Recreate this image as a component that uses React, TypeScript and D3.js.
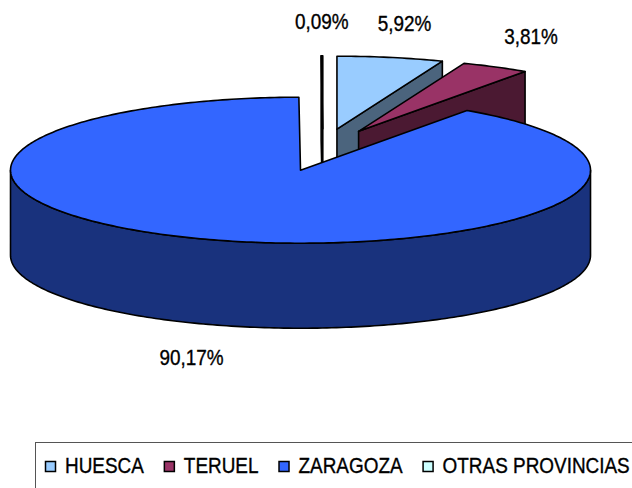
import { useLayoutEffect, useRef } from 'react'
import * as d3 from 'd3'

const provinces = ['HUESCA', 'TERUEL', 'ZARAGOZA', 'OTRAS PROVINCIAS']
const shares = [5.92, 3.81, 90.17, 0.09]
const colors = ['#99ccff', '#993366', '#3366ff', '#ccffff']

const W = 632
const H = 488
// no narrow font installed, so squeeze Liberation Sans horizontally
const FONT = '"Liberation Sans", Arial, sans-serif'
const FONT_SIZE = 21.5
const SQUEEZE = 0.88

type Pt = [number, number]

export default function App() {
  const ref = useRef<SVGSVGElement>(null)

  useLayoutEffect(() => {
    if (!ref.current) return
    const svg = d3.select(ref.current)
    svg.selectAll('*').remove()

    // 3d pie geometry
    const cx = 323
    const cy = 150
    const rx = 290
    const ry = 73
    const depth = 85
    const ex = 0.26 * rx
    const ey = 0.29 * ry

    const pie = d3.pie<number>().value((d) => d).sort(null)
    const slices = pie(shares).map((a, i) => {
      const mid = (a.startAngle + a.endAngle) / 2
      return {
        i,
        a0: a.startAngle,
        a1: a.endAngle,
        mid,
        ox: cx + ex * Math.sin(mid),
        oy: cy - ey * Math.cos(mid),
      }
    })
    type S = (typeof slices)[number]

    const pt = (s: S, a: number, dz = 0): Pt => [s.ox + rx * Math.sin(a), s.oy - ry * Math.cos(a) + dz]
    const rim = (s: S, a0: number, a1: number, dz = 0) => {
      const n = Math.max(2, Math.ceil(Math.abs(a1 - a0) * 60))
      return d3.range(n + 1).map((k) => pt(s, a0 + ((a1 - a0) * k) / n, dz))
    }
    const poly = (pts: Pt[]) => 'M' + pts.map((p) => p.join(',')).join('L') + 'Z'

    const label = (parent: d3.Selection<SVGGElement, unknown, null, undefined>, x: number, y: number, txt: string) =>
      parent
        .append('text')
        .attr('transform', `translate(${x},${y}) scale(${SQUEEZE},1)`)
        .attr('font-family', FONT)
        .attr('font-size', FONT_SIZE)
        .attr('fill', '#000')
        .attr('stroke', '#000')
        .attr('stroke-width', 0.35)
        .text(txt)

    const g = svg.append('g')
    const order = slices.slice().sort((a, b) => Math.cos(b.mid) - Math.cos(a.mid))

    order.forEach((s) => {
      const top = colors[s.i]
      const side = d3.color(top)!.darker(2).formatHex()
      const c0: Pt = [s.ox, s.oy]
      const c1: Pt = [s.ox, s.oy + depth]
      const style = (p: d3.Selection<SVGPathElement, unknown, null, undefined>, fill: string) =>
        p
          .attr('fill', fill)
          .attr('stroke', '#000')
          .attr('stroke-width', 1.6)
          .attr('stroke-linejoin', 'round')

      // cut faces that look toward the viewer
      ;[
        [s.a0, s.a0 - Math.PI / 2],
        [s.a1, s.a1 + Math.PI / 2],
      ].forEach(([a, n]) => {
        if (Math.cos(n) < 0) {
          style(g.append('path').attr('d', poly([c0, pt(s, a), pt(s, a, depth), c1])), side)
        }
      })

      // outer wall, front half only
      const w0 = Math.max(s.a0, Math.PI / 2)
      const w1 = Math.min(s.a1, (3 * Math.PI) / 2)
      if (w1 > w0) {
        const pts = rim(s, w0, w1).concat(rim(s, w1, w0, depth))
        style(g.append('path').attr('d', poly(pts)), side)
      }

      // top
      style(g.append('path').attr('d', poly([c0, ...rim(s, s.a0, s.a1)])), top)
    })

    // value labels
    slices.forEach((s) => {
      const below = Math.cos(s.mid) < 0 ? depth : 0
      label(
        g,
        s.ox + 1.26 * rx * Math.sin(s.mid),
        s.oy - (ry + 34) * Math.cos(s.mid) + below,
        shares[s.i].toFixed(2).replace('.', ',') + '%'
      )
        .attr('text-anchor', 'middle')
        .attr('dominant-baseline', 'central')
    })

    // legend
    const lg = svg.append('g')
    lg.append('rect')
      .attr('x', 35.5)
      .attr('y', 442.5)
      .attr('width', 640)
      .attr('height', 80)
      .attr('fill', 'none')
      .attr('stroke', '#555')
      .attr('stroke-width', 1)

    let x = 45
    provinces.forEach((name, i) => {
      lg.append('rect')
        .attr('x', x + 0.5)
        .attr('y', 461.5)
        .attr('width', 10)
        .attr('height', 10)
        .attr('fill', colors[i])
        .attr('stroke', '#000')
        .attr('stroke-width', 1.5)
      const t = label(lg, x + 20, 472.5, name)
      const tw = (t.node() as SVGTextElement).getComputedTextLength() * SQUEEZE
      x += 20 + tw + 20
    })
  }, [])

  return (
    <svg
      ref={ref}
      width={W}
      height={H}
      style={{ position: 'absolute', left: 0, top: 0, background: '#fff' }}
    />
  )
}
